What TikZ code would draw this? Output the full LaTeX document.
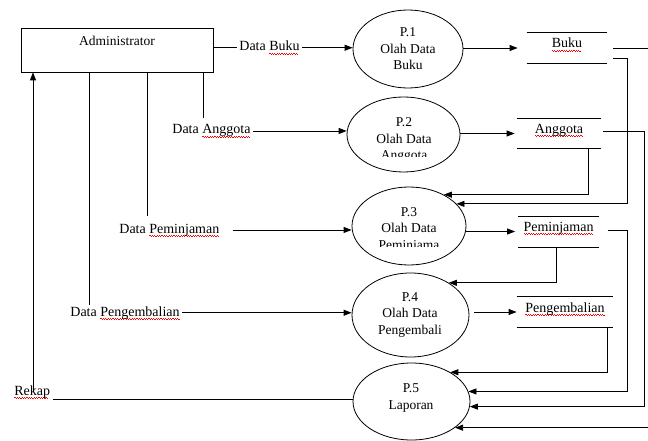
\documentclass[tikz,border=0pt]{standalone}
\usepackage{fontspec}
\setmainfont{Liberation Serif}
\usetikzlibrary{arrows.meta,calc,shapes.geometric}
\newsavebox\sqbox
\newcommand\sq[1]{\sbox\sqbox{#1}\rlap{\color{red}\leaders\hbox{\rule[-2.2pt]{1.2pt}{0.6pt}\rule[-3.2pt]{1.2pt}{0.6pt}}\hskip\wd\sqbox}\usebox\sqbox}
\begin{document}
\begin{tikzpicture}[x=1pt,y=-1pt, line width=0.8pt,
  font=\fontsize{13.5}{16.5}\selectfont,
  arr/.style={-{Triangle[length=8pt,width=6pt]}},
  proc/.style={draw, ellipse, inner sep=0pt},
  ptext/.style={align=center, font=\fontsize{13.5}{16.5}\selectfont, inner sep=0pt},
  lbl/.style={anchor=base west, inner xsep=2pt, inner ysep=1pt, font=\fontsize{14}{16}\selectfont},
  store/.style={minimum height=30pt, text height=4.5pt, text depth=4.5pt, inner sep=0pt, font=\fontsize{14}{16}\selectfont}]
\useasboundingbox (0,0) rectangle (648,441);

% external entity
\node[draw, minimum width=192pt, minimum height=44pt, inner sep=0pt] (admin) at (117,50) {};
\node[anchor=base] (admtxt) at (117,46) {Administrator};

% processes
\node[proc, minimum width=110pt, minimum height=78pt] (p1) at (408,49) {};
\node[proc, minimum width=113pt, minimum height=75pt] (p2) at (403.5,134.5) {};
\node[proc, minimum width=114pt, minimum height=78pt] (p3) at (409,226) {};
\node[proc, minimum width=117pt, minimum height=84pt] (p4) at (410.5,315) {};
\node[proc, minimum width=117pt, minimum height=77pt] (p5) at (411.5,401.5) {};

\node[ptext] (t1) at (408,49) {P.1\\Olah Data\\Buku};
\begin{scope}
  \clip (340,100) rectangle (470,157);
  \node[ptext] (t2) at (404,140) {P.2\\Olah Data\\Anggota};
\end{scope}
\begin{scope}
  \clip (340,190) rectangle (470,246.5);
  \node[ptext] (t3) at (409,229.5) {P.3\\Olah Data\\Peminjama};
\end{scope}
\node[ptext] (t4) at (410,315) {P.4\\Olah Data\\Pengembali};
\node[ptext] (t5) at (411,398) {P.5\\Laporan};

% data stores
\node[store, minimum width=80pt] (buku) at (567,48) {\sq{Buku}};
\node[store, minimum width=84pt] (angg) at (559,133.5) {\sq{Anggota}};
\node[store, minimum width=80pt] (pinjam) at (558.5,231.5) {\sq{Peminjaman}};
\node[store, minimum width=96pt] (kembali) at (565,312) {\sq{Pengembalian}};
\foreach \s in {buku,angg,pinjam,kembali}
  \draw (\s.north west) -- (\s.north east) (\s.south west) -- (\s.south east);

% flow labels
\node[lbl] (lbuku) at (237,51) {Data \sq{Buku}};
\node[lbl] (langg) at (170,134) {Data \sq{Anggota}};
\node[lbl] (lpinjam) at (117,233) {Data \sq{Peminjaman}};
\node[lbl] (lkembali) at (68,316) {Data \sq{Pengembalian}};
\node[lbl] (lrekap) at (12,395) {\sq{Rekap}};

% columns
\coordinate (c33) at (33,0);
\coordinate (c89) at (89,0);
\coordinate (c147) at (147,0);
\coordinate (c203) at (203,0);
\coordinate (c556) at (556,0);
\coordinate (c588) at (588,0);
\coordinate (c607) at (607,0);
\coordinate (c627) at (627,0);
\coordinate (c644) at (644,0);
\coordinate (c651) at (651,0);

% left flows
\draw (admin.east |- lbuku.west) -- (lbuku.west);
\draw[arr] (lbuku.east) -- (lbuku.east -| p1.west);
\draw (admin.south -| c203) -- ($(langg.north -| c203)+(0,-5)$);
\draw[arr] (langg.east) -- (langg.east -| p2.west);
\draw (admin.south -| c147) -- ($(lpinjam.north -| c147)+(0,-6)$);
\draw[arr] ($(lpinjam.east)+(11,0)$) -- (lpinjam.east -| p3.west);
\draw (admin.south -| c89) -- (lkembali.north -| c89);
\draw[arr] (lkembali.east) -- (lkembali.east -| p4.west);
\draw[arr] ($(lrekap.north -| c33)+(0,8)$) -- (admin.south -| c33);
\draw (lrekap.south east) -- (lrekap.south east -| p5.west);

% process to store
\draw[arr, shorten >=9pt] (buku.west -| p1.east) -- (buku.west);
\draw[arr, shorten >=2pt] (angg.west -| p2.east) -- (angg.west);
\draw[arr, shorten >=3pt] (pinjam.west -| p3.east) -- (pinjam.west);
\draw[arr] ($(kembali.west -| p4.east)+(5,0)$) -- (kembali.west);

% store to process
\draw[arr] ($(buku.south east)+(6,-5)$) -| (p3.25 -| c627) -- (p3.25);
\draw[arr] ($(buku.east)+(6,0)$) -| (p5.-31 -| c651) -- (p5.-31);
\draw[arr] (angg.south -| c588) |- (p3.42);
\draw[arr] ($(angg.east)+(2,-2.5)$) -| (p5.-5 -| c644) -- (p5.-5);
\draw[arr] (pinjam.south -| c556) |- (p4.40);
\draw[arr] ($(pinjam.east)+(9,-1.5)$) -| (p5.10 -| c627) -- (p5.10);
\draw[arr] (kembali.south -| c607) |- (p5.37);
\end{tikzpicture}
\end{document}
